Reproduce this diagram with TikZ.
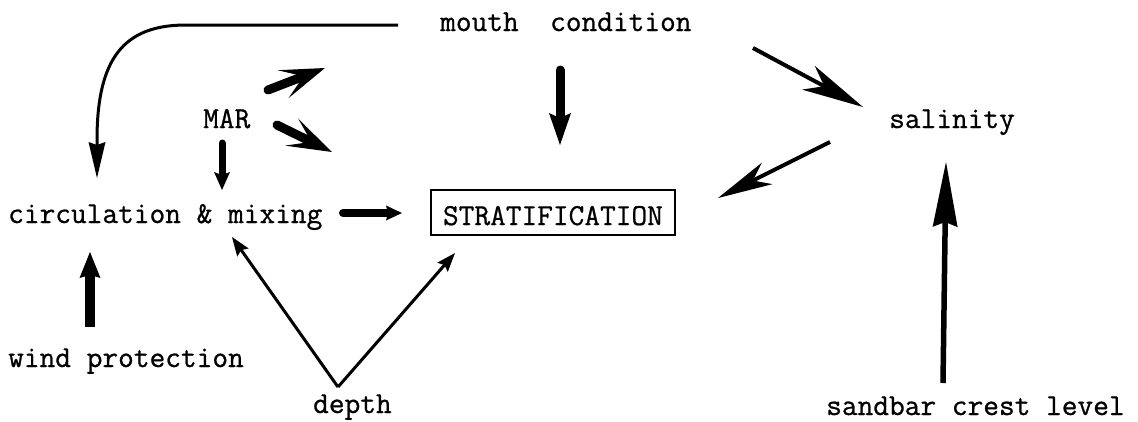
\documentclass[tikz,border=0pt]{standalone}
\usepackage{fontspec}
\newfontfamily\tw{Latin Modern Mono}[FakeBold=0.8]
\usetikzlibrary{arrows.meta,calc}
\tikzset{
  lbl/.style={anchor=base west, inner sep=0pt, font={\tw\fontsize{30.5pt}{36pt}\selectfont}},
  thin/.style={line width=3pt, -{Stealth[length=36pt,width=17pt,inset=3pt,line width=0pt]}},
  vthin/.style={line width=3pt, -{Stealth[length=19pt,width=14pt,inset=3pt,line width=0pt]}},
  longhead/.style={line width=4pt, -{Stealth[length=62pt,width=27pt,inset=18pt,line width=0pt]}},
  tall/.style={line width=5.5pt, -{Stealth[length=65pt,width=25pt,inset=5pt,line width=0pt]}},
  fat/.style={line width=9pt, line cap=round, -{Stealth[length=45pt,width=30pt,inset=22pt,line width=0pt]}},
  stub/.style={line width=#1, line cap=round},
}
\begin{document}
\begin{tikzpicture}[x=1pt,y=-1pt]
\useasboundingbox (0,0) rectangle (1138,421);
\node[lbl] (mouth) at (440,31) {mouth\ \ condition};
\node[lbl] (mar) at (203,128) {MAR};
\node[lbl] (sal) at (889,128) {salinity};
\node[lbl] (circ) at (8,223) {circulation \& mixing};
\node[lbl, draw, line width=2pt, inner xsep=12pt, inner ysep=0pt, text height=35pt, text depth=10pt] (strat) at (430,225) {STRATIFICATION};
\node[lbl] (wind) at (8,367) {wind protection};
\node[lbl] (depth) at (313,413) {depth};
\node[lbl] (sand) at (826,415) {sandbar crest level};

% mouth condition -> circulation (curved)
\draw[thin] ($(mouth.base west)+(-42,-6)$) -- ++(-212,0)
  .. controls +(-62,0) and +(0,-82) .. ++(-89,115)
  -- ($(circ.base west)+(89,-45)$);
% MAR arrows
\draw[fat] ($(mar.base west)+(65,-38)$) -- ($(mouth.base west)+(-115,37)$);
\draw[fat] ($(mar.base west)+(74,-3)$) -- ($(strat.base west)+(-98,-73)$);
\draw[stub=7pt, -{Stealth[length=18pt,width=16pt,inset=3pt,line width=0pt]}]
  ($(mar.base west)+(19,15)$) -- ($(circ.base west)+(214,-33)$);
% mouth -> stratification
\draw[stub=9pt, -{Stealth[length=32pt,width=22pt,inset=5pt,line width=0pt]}]
  ($(mouth.base west)+(120,39)$) -- ($(strat.base west)+(130,-80)$);
% mouth -> salinity
\draw[longhead] ($(mouth.base west)+(313,17)$) -- ($(sal.base west)+(-26,-21)$);
% salinity -> stratification
\draw[longhead, -{Stealth[length=55pt,width=24pt,inset=16pt,line width=0pt]}]
  ($(sal.base west)+(-59,14)$) -- ($(strat.base west)+(288,-27)$);
% circulation -> stratification
\draw[stub=8pt, -{Stealth[length=16pt,width=15pt,inset=2pt,line width=0pt]}]
  ($(circ.base west)+(335,-10)$) -- ($(strat.base west)+(-28,-12)$);
% wind -> circulation
\draw[stub=10pt, line cap=butt, -{Stealth[length=26pt,width=21pt,inset=3pt,line width=0pt]}]
  ($(wind.base west)+(82,-40)$) -- ($(circ.base west)+(82,29)$);
% depth arrows
\draw[vthin] ($(depth.base west)+(25,-26)$) -- ($(circ.base west)+(224,14)$);
\draw[vthin] ($(depth.base west)+(25,-26)$) -- ($(strat.base west)+(25,28)$);
% sandbar -> salinity
\draw[tall] ($(sand.base west)+(117,-32)$) -- ($(sal.base west)+(57,34)$);
\end{tikzpicture}
\end{document}
